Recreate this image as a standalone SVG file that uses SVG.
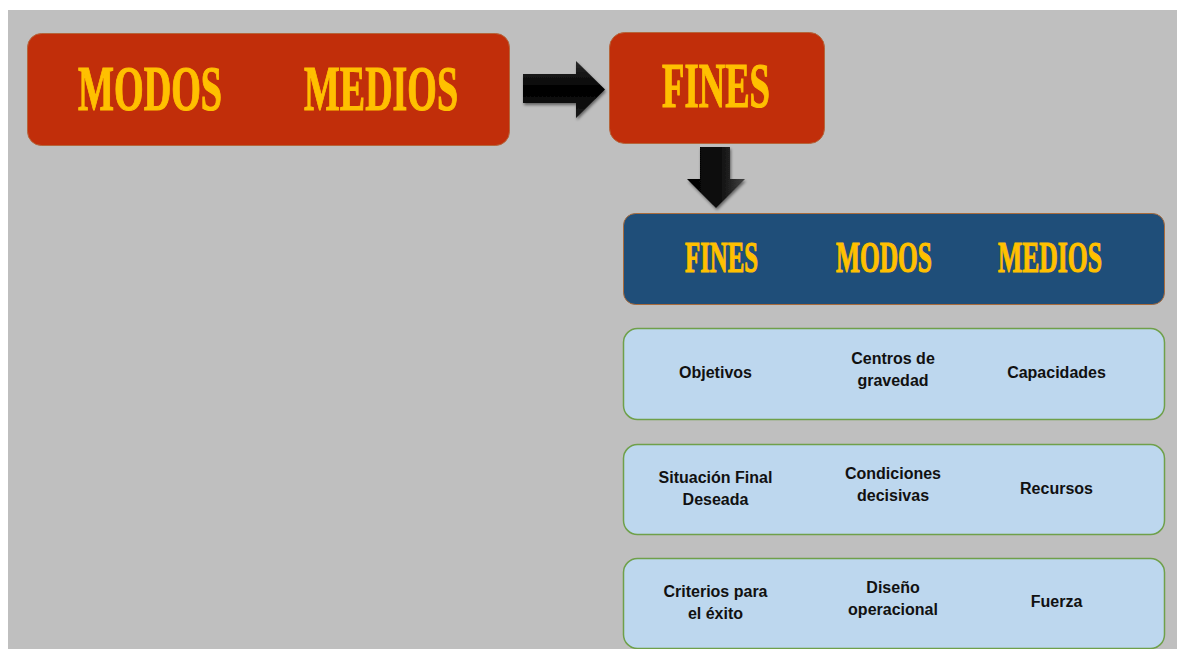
<svg xmlns="http://www.w3.org/2000/svg" width="1177" height="649" viewBox="0 0 1177 649">
<style>
.red{fill:#C12E0A;stroke:#B5653A;stroke-width:1}
.blue{fill:#1F4E79;stroke:#A86B3C;stroke-width:1}
.lb{fill:#BDD7EE;stroke:#6FA04A;stroke-width:1.5}
.big{font-family:"Liberation Serif",serif;font-weight:bold;fill:#FFC000;stroke:#FFC000;stroke-width:1.2;text-anchor:middle}
.sm{font-family:"Liberation Sans",Arial,sans-serif;font-weight:bold;font-size:16px;fill:#111;text-anchor:middle}
</style>
<defs>
<linearGradient id="gh" x1="0" y1="0" x2="0" y2="1">
<stop offset="0" stop-color="#2a2a2a"/><stop offset="0.5" stop-color="#000"/><stop offset="1" stop-color="#1a1a1a"/>
</linearGradient>
<linearGradient id="gv" x1="0" y1="0" x2="1" y2="0">
<stop offset="0" stop-color="#000"/><stop offset="0.6" stop-color="#111"/><stop offset="1" stop-color="#444"/>
</linearGradient>
<filter id="sh" x="-20%" y="-20%" width="150%" height="150%">
<feGaussianBlur in="SourceAlpha" stdDeviation="1.5"/><feOffset dx="1" dy="2" result="b"/>
<feComponentTransfer><feFuncA type="linear" slope="0.5"/></feComponentTransfer>
<feMerge><feMergeNode/><feMergeNode in="SourceGraphic"/></feMerge>
</filter>
</defs>
<rect x="0" y="0" width="1177" height="649" fill="#fff"/>
<rect x="8" y="10" width="1169" height="639" fill="#BFBFBF"/>

<g id="modos-medios">
<rect class="red" x="27.5" y="33.5" width="482" height="112" rx="14"/>
<text class="big" x="150" y="110" font-size="64" textLength="144" lengthAdjust="spacingAndGlyphs">MODOS</text>
<text class="big" x="381" y="110" font-size="64" textLength="154" lengthAdjust="spacingAndGlyphs">MEDIOS</text>
</g>

<g id="fines-top">
<rect class="red" x="609.5" y="32.5" width="215" height="111" rx="15"/>
<text class="big" x="716" y="107" font-size="63" textLength="108" lengthAdjust="spacingAndGlyphs">FINES</text>
</g>

<g id="header">
<rect class="blue" x="623.5" y="213.5" width="541" height="91" rx="12"/>
<text class="big" x="721.5" y="272" font-size="45" textLength="73" lengthAdjust="spacingAndGlyphs">FINES</text>
<text class="big" x="884" y="272" font-size="45" textLength="96" lengthAdjust="spacingAndGlyphs">MODOS</text>
<text class="big" x="1050" y="272" font-size="45" textLength="104" lengthAdjust="spacingAndGlyphs">MEDIOS</text>
</g>

<g id="row1">
<rect class="lb" x="623.5" y="328.5" width="541" height="91" rx="14"/>
<text class="sm" x="715.5" y="378">Objetivos</text>
<text class="sm" x="893" y="364">Centros de</text>
<text class="sm" x="893" y="386">gravedad</text>
<text class="sm" x="1056.5" y="378">Capacidades</text>
</g>

<g id="row2">
<rect class="lb" x="623.5" y="444.5" width="541" height="90" rx="14"/>
<text class="sm" x="715.5" y="483">Situación Final</text>
<text class="sm" x="715.5" y="505">Deseada</text>
<text class="sm" x="893" y="479">Condiciones</text>
<text class="sm" x="893" y="501">decisivas</text>
<text class="sm" x="1056.5" y="494">Recursos</text>
</g>

<g id="row3">
<rect class="lb" x="623.5" y="558.5" width="541" height="90" rx="14"/>
<text class="sm" x="715.5" y="597">Criterios para</text>
<text class="sm" x="715.5" y="619">el éxito</text>
<text class="sm" x="893" y="593">Diseño</text>
<text class="sm" x="893" y="615">operacional</text>
<text class="sm" x="1056.5" y="607">Fuerza</text>
</g>

<g id="connectors">
<polygon points="523,74 576,74 576,61 605,89.5 576,118 576,103 523,103" fill="url(#gh)" filter="url(#sh)"/>
<polygon points="700,147 730,147 730,179 745,179 716,208 687,179 700,179" fill="url(#gv)" filter="url(#sh)"/>
</g>
</svg>
